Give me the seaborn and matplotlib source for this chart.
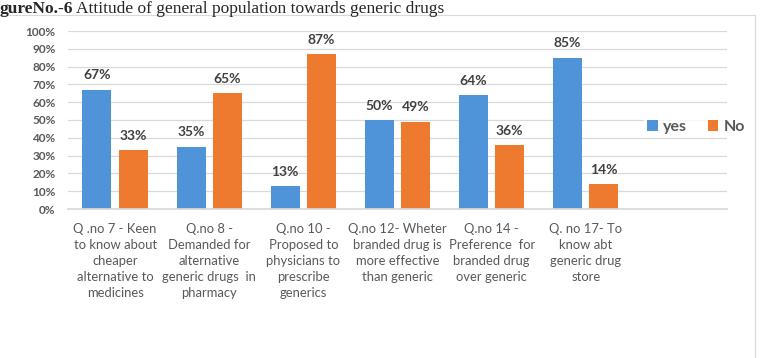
import matplotlib
matplotlib.use("Agg")
import matplotlib.pyplot as plt
import seaborn as sns
import pandas as pd
from matplotlib.lines import Line2D
from matplotlib.patches import Patch

categories = [
    "Q .no 7 - Keen\nto know about\ncheaper\nalternative to\nmedicines",
    "Q.no 8 -\nDemanded for\nalternative\ngeneric drugs  in\npharmacy",
    "Q.no 10 -\nProposed to\nphysicians to\nprescribe\ngenerics",
    "Q.no 12- Wheter\nbranded drug is\nmore effective\nthan generic",
    "Q.no 14 -\nPreference  for\nbranded drug\nover generic",
    "Q. no 17- To\nknow abt\ngeneric drug\nstore",
]
yes_vals = [67, 35, 13, 50, 64, 85]
no_vals = [33, 65, 87, 49, 36, 14]
series = ["yes", "No"]
yticks = [0, 10, 20, 30, 40, 50, 60, 70, 80, 90, 100]

df = pd.DataFrame({
    "cat": categories * 2,
    "val": yes_vals + no_vals,
    "series": [series[0]] * len(categories) + [series[1]] * len(categories),
})

sns.set_theme(style="white")
plt.rcParams["font.family"] = ["Lato", "DejaVu Sans"]

W, H = 763, 358
fig = plt.figure(figsize=(W / 100, H / 100), dpi=100)
ax = fig.add_axes([68 / W, 1 - 209 / H, (727 - 68) / W, (209 - 31) / H])

colors = {"yes": "#4F94D8", "No": "#EE7A30"}
sns.barplot(data=df, x="cat", y="val", hue="series", palette=colors,
            width=0.77, gap=0.2, ax=ax, legend=False, saturation=1,
            edgecolor="none")

ax.set_xlim(-0.5, 6.5)
ax.set_ylim(0, 100)
ax.set_yticks(yticks)
ax.set_yticklabels([f"{t}%" for t in yticks], fontsize=8.5, fontweight="bold", color="#595959")
ax.set_xticks(range(len(categories)))
ax.set_xticklabels(categories, fontsize=9.4, color="#595959", linespacing=1.4)
ax.tick_params(axis="both", length=0)
ax.tick_params(axis="y", pad=9)
ax.tick_params(axis="x", pad=10)
ax.set_xlabel("")
ax.set_ylabel("")
ax.grid(axis="y", color="#D9D9D9", linewidth=0.9)
ax.set_axisbelow(True)
for s in ["top", "right", "left"]:
    ax.spines[s].set_visible(False)
ax.spines["bottom"].set_color("#D9D9D9")

for cont in ax.containers:
    vals = [b.get_height() for b in cont]
    ax.bar_label(cont, labels=[f"{v:.0f}%" for v in vals], padding=6,
                 fontsize=10, fontweight="bold", color="#404040")

handles = [Patch(facecolor=colors[s], edgecolor="none") for s in series]
leg = fig.legend(handles, series, loc="center left",
                 bbox_to_anchor=(636 / W, 1 - 127 / H), ncol=2,
                 frameon=True, facecolor="white", edgecolor="none",
                 handlelength=0.65, handleheight=0.65, handletextpad=0.35,
                 columnspacing=1.3, borderpad=0.2,
                 prop={"size": 11.5, "weight": "bold"})
for t in leg.get_texts():
    t.set_color("#595959")

# chart frame lines
fig.add_artist(Line2D([0, 755 / W], [1 - 15 / H, 1 - 15 / H], color="#D9D9D9", lw=0.8))
fig.add_artist(Line2D([755 / W, 755 / W], [0, 1 - 15 / H], color="#D9D9D9", lw=0.8))

# caption
t1 = fig.text(0, 1 - 1 / H, "gureNo.-6", fontsize=12.5, fontweight="bold",
              family=["Liberation Serif"], va="top", ha="left")
fig.canvas.draw()
bb = t1.get_window_extent()
fig.text(bb.x1 / W + 3 / W, 1 - 1 / H, "Attitude of general population towards generic drugs",
         fontsize=12.5, family=["Liberation Serif"], va="top", ha="left")

fig.savefig("out.png", dpi=100)
